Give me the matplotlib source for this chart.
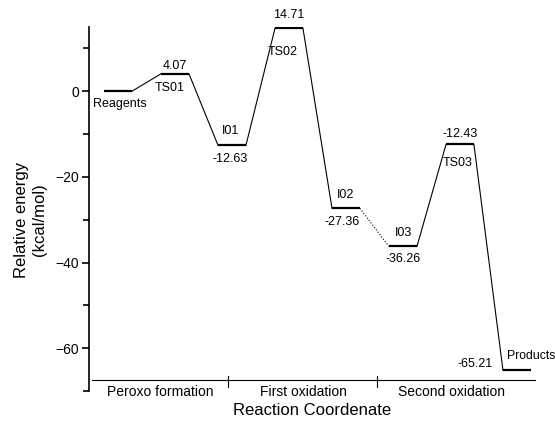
import matplotlib
matplotlib.use("Agg")
import matplotlib.pyplot as plt
from matplotlib.ticker import MultipleLocator

plt.rcParams["font.family"] = ["Liberation Sans", "DejaVu Sans"]

# energy profile data
states = ["Reagents", "TS01", "I01", "TS02", "I02", "I03", "TS03", "Products"]
energies = [0.00, 4.07, -12.63, 14.71, -27.36, -36.26, -12.43, -65.21]
steps = ["Peroxo formation", "First oxidation", "Second oxidation"]
dotted_after = ["I02"]  # connector from this state is dotted

# label placement per state: (name dx, name dy, value dx, value dy) in pixels
label_offsets = {
    "Reagents": (2, -13, None, None),
    "TS01": (-5, -14, 0, 8),
    "I01": (-1, 14, -2, -14),
    "TS02": (-6, -24, 0, 13),
    "I02": (0, 13, -4, -14),
    "I03": (1, 13, 0, -13),
    "TS03": (-2, -19, 0, 10),
    "Products": (-10, 14, -42, 6),
}

level_w = 0.49
group_x = [0.98, 3.49, 6.10]
divider_x = [2.175, 4.79]
baseline = -67.5

fig = plt.figure(figsize=(5.55, 4.23), dpi=100)
ax = fig.add_axes([0.1595, 0.0757, 0.8225, 0.8605])

for i, (name, e) in enumerate(zip(states, energies)):
    ax.plot([i, i + level_w], [e, e], color="black", lw=1.6, solid_capstyle="butt")
    if i < len(states) - 1:
        ls = ":" if name in dotted_after else "-"
        ax.plot([i + level_w, i + 1], [e, energies[i + 1]], color="black", lw=0.8, ls=ls)

    ndx, ndy, vdx, vdy = label_offsets[name]
    xc = i + level_w / 2
    if name == "Products":
        ax.annotate(name, (xc, e), xytext=(ndx, ndy), textcoords="offset pixels",
                    ha="left", va="center", fontsize=8.8, annotation_clip=False)
    else:
        ax.annotate(name, (xc, e), xytext=(ndx, ndy), textcoords="offset pixels",
                    ha="center", va="center", fontsize=9)
    if vdx is not None:
        ax.annotate(f"{e:.2f}", (xc, e), xytext=(vdx, vdy), textcoords="offset pixels",
                    ha="center", va="center", fontsize=9)

# reaction coordinate baseline with step dividers
ax.plot([-0.21, 7.56], [baseline, baseline], color="black", lw=0.8, clip_on=False)
for dx in divider_x:
    ax.plot([dx, dx], [baseline + 1.1, baseline - 1.5], color="black", lw=0.8, clip_on=False)
for gx, step in zip(group_x, steps):
    ax.text(gx, -70.2, step, ha="center", va="center", fontsize=10, clip_on=False)

ax.set_xlim(-0.272, 7.737)
ax.set_ylim(-70, 15)
ax.set_xticks([])
ax.yaxis.set_major_locator(MultipleLocator(20))
ax.yaxis.set_minor_locator(MultipleLocator(10))
ax.tick_params(axis="y", which="major", direction="out", length=5, width=1.2, labelsize=10, pad=2)
ax.tick_params(axis="y", which="minor", direction="out", length=4, width=1.2)

for side in ["top", "right", "bottom"]:
    ax.spines[side].set_visible(False)
ax.spines["left"].set_linewidth(1.2)

ax.set_ylabel("Relative energy\n(kcal/mol)", fontsize=12, linespacing=1.25)
ax.yaxis.set_label_coords(-0.09, 0.47)
fig.text(0.562, 0.03, "Reaction Coordenate", ha="center", va="center", fontsize=12)

fig.savefig("out.png", dpi=100)
plt.close(fig)
